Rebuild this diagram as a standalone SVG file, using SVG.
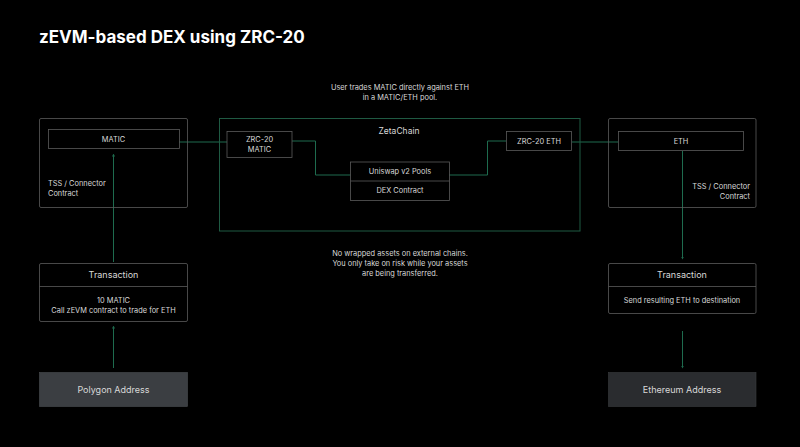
<svg xmlns="http://www.w3.org/2000/svg" width="800" height="447" viewBox="0 0 800 447">
<defs>
<style>
text{font-family:Inter,"Liberation Sans",sans-serif;fill:#d8d8d8}
.t{font-size:7.4px;text-anchor:middle}
.h{font-size:9px;text-anchor:middle}
.box{fill:none;stroke:#5a5a5a;stroke-width:0.8}
.zeta{fill:none;stroke:#1f5a43;stroke-width:1}
.c{fill:none;stroke:#1e6b4e;stroke-width:1}
</style>
<marker id="a" viewBox="0 0 4 4" refX="2" refY="2" markerWidth="3" markerHeight="3" orient="auto"><path d="M0,0L4,2L0,4z" fill="#1e6b4e"/></marker>
</defs>
<rect width="800" height="447" fill="#000"/>
<text x="39" y="43" style="font-size:17px;font-weight:700;fill:#fff">zEVM-based DEX using ZRC-20</text>
<text class="t" x="400" y="90">User trades MATIC directly against ETH</text>
<text class="t" x="400" y="100">in a MATIC/ETH pool.</text>
<text class="t" x="400" y="256">No wrapped assets on external chains.</text>
<text class="t" x="400" y="266">You only take on risk while your assets</text>
<text class="t" x="400" y="276">are being transferred.</text>
<g id="connectors">
<path class="c" d="M179,142H227"/>
<path class="c" d="M292,141H315.5V175H350.5"/>
<path class="c" d="M449,175H487.5V141H506"/>
<path class="c" d="M572,142H618"/>
<path class="c" d="M113.5,368V327" marker-end="url(#a)"/>
<path class="c" d="M113.5,262V155" marker-end="url(#a)"/>
<path class="c" d="M682.5,151V258" marker-end="url(#a)"/>
<path class="c" d="M682.5,331V367" marker-end="url(#a)"/>
</g>
<g id="zetachain">
<rect class="zeta" x="219.5" y="118.5" width="360.5" height="112.5"/>
<text class="h" x="399" y="134" style="font-size:8.5px">ZetaChain</text>
</g>
<g id="tss-left">
<rect class="box" x="39.5" y="118.5" width="148" height="89" rx="1.5"/>
<text x="48" y="186" style="font-size:7.4px">TSS / Connector</text>
<text x="48" y="196" style="font-size:7.4px">Contract</text>
</g>
<g id="matic">
<rect class="box" x="48.5" y="129.5" width="131" height="19"/>
<text class="t" x="113.5" y="141.5">MATIC</text>
</g>
<g id="zrc20-matic">
<rect class="box" x="227" y="131.5" width="65" height="26"/>
<text class="t" x="259.5" y="142">ZRC-20</text>
<text class="t" x="259.5" y="152">MATIC</text>
</g>
<g id="dex">
<rect class="box" x="350.5" y="162" width="99" height="38.5"/>
<path class="box" d="M350.5,181H449.5"/>
<text class="t" x="400" y="174">Uniswap v2 Pools</text>
<text class="t" x="400" y="193">DEX Contract</text>
</g>
<g id="zrc20-eth">
<rect class="box" x="506.5" y="131.5" width="65" height="19"/>
<text class="t" x="539" y="144">ZRC-20 ETH</text>
</g>
<g id="tss-right">
<rect class="box" x="608.5" y="118.5" width="147.5" height="89" rx="1.5"/>
<text x="750" y="189" style="font-size:7.4px;text-anchor:end">TSS / Connector</text>
<text x="750" y="199" style="font-size:7.4px;text-anchor:end">Contract</text>
</g>
<g id="eth">
<rect class="box" x="618.5" y="131.5" width="125" height="19"/>
<text class="t" x="681" y="144">ETH</text>
</g>
<g id="tx-left">
<rect class="box" x="39.5" y="263.5" width="148" height="58" rx="1.5"/>
<path class="box" d="M39.5,286.5H187.5"/>
<text class="h" x="113.5" y="278">Transaction</text>
<text class="t" x="113.5" y="303">10 MATIC</text>
<text class="t" x="113.5" y="313">Call zEVM contract to trade for ETH</text>
</g>
<g id="tx-right">
<rect class="box" x="608.5" y="263.5" width="147.5" height="50" rx="1.5"/>
<path class="box" d="M608.5,286.5H756"/>
<text class="h" x="682" y="278">Transaction</text>
<text class="t" x="682" y="303">Send resulting ETH to destination</text>
</g>
<g id="polygon-address">
<rect x="39.5" y="372.5" width="148" height="34" fill="#3b3e42" stroke="#4a4d50" stroke-width="0.6"/>
<text class="h" x="113.5" y="393">Polygon Address</text>
</g>
<g id="ethereum-address">
<rect x="608.5" y="372.5" width="147.5" height="34" fill="#2a2c2f" stroke="#3a3c3f" stroke-width="0.6"/>
<text class="h" x="682" y="393">Ethereum Address</text>
</g>
</svg>
